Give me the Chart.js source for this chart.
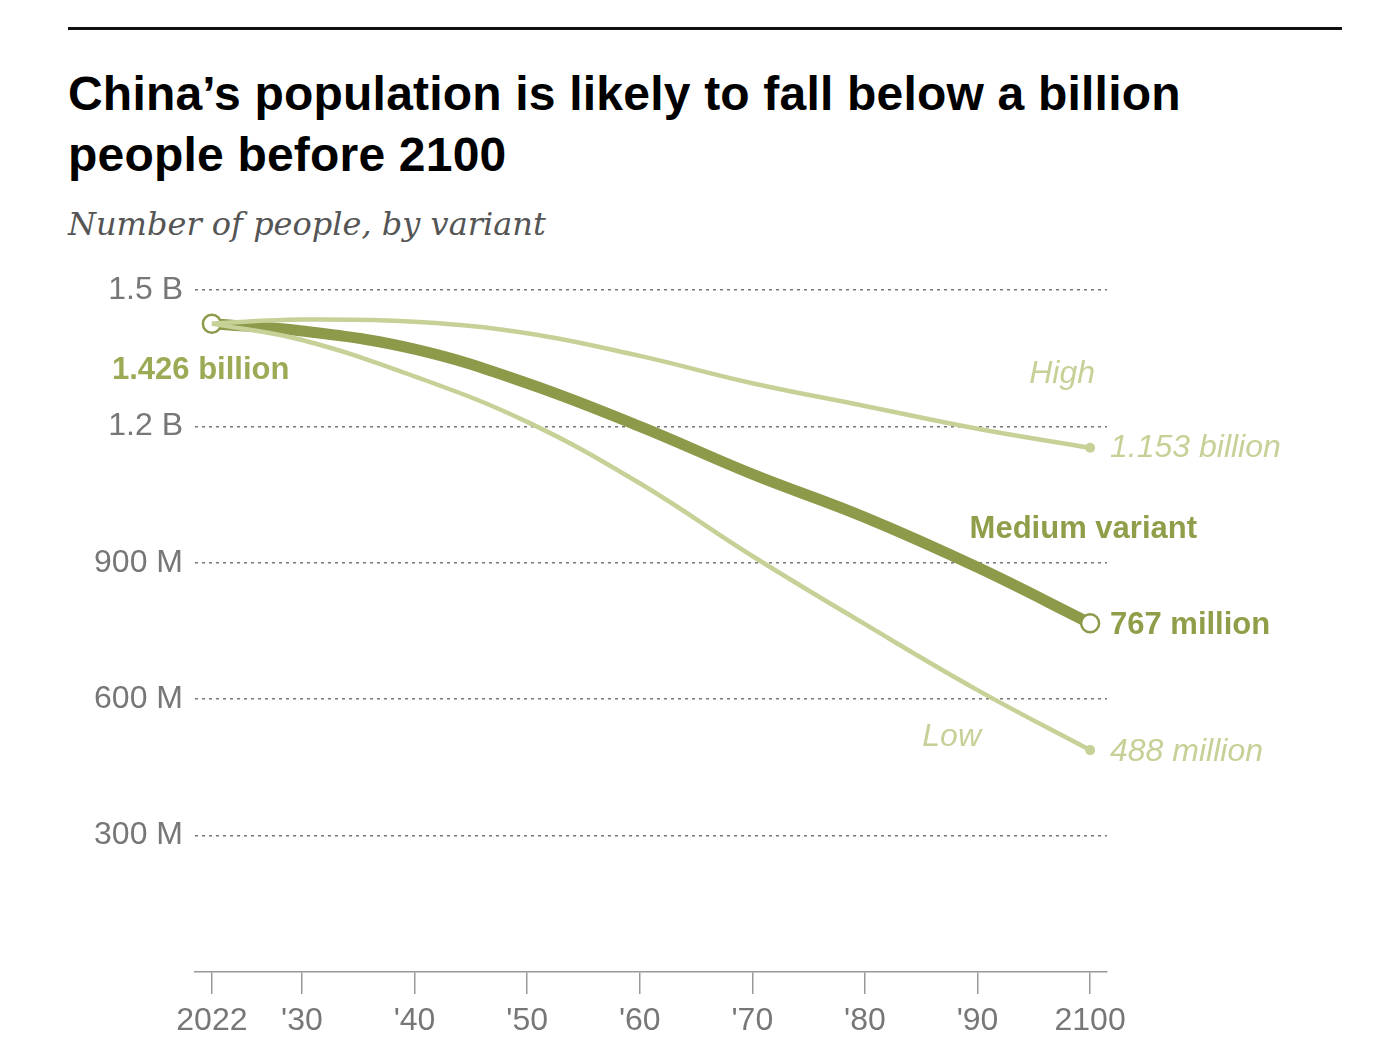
<!DOCTYPE html>
<html lang="en">
<head>
<meta charset="UTF-8">
<title>China population</title>
<script src="https://cdn.jsdelivr.net/npm/chart.js"></script>
<style>
  body { margin: 0; background: #fff; font-family: "Liberation Sans", Arial, sans-serif; }
  #wrap { position: relative; width: 1380px; height: 1048px; }
  #rule { position: absolute; left: 68px; top: 27px; width: 1274px; height: 3px; background: #111; }
  h1 { position: absolute; left: 68px; top: 63px; margin: 0; font-size: 48px; line-height: 61px; font-weight: bold; color: #000; letter-spacing: 0.2px; }
  #sub { position: absolute; left: 68px; top: 205px; font-family: "DejaVu Serif", Georgia, serif; font-style: italic; font-size: 32px; color: #555; }
  canvas { position: absolute; left: 0; top: 0; }
</style>
</head>
<body>
<div id="wrap">
  <div id="rule"></div>
  <h1>China’s population is likely to fall below a billion<br>people before 2100</h1>
  <div id="sub">Number of people, by variant</div>
  <canvas id="chart" width="1380" height="1048"></canvas>
</div>
<script>
const years = [2022, 2030, 2040, 2050, 2060, 2070, 2080, 2090, 2100];
const medium = [1.426, 1.41, 1.37, 1.295, 1.20, 1.095, 1.0, 0.89, 0.767];
const high = [1.426, 1.435, 1.43, 1.405, 1.355, 1.295, 1.245, 1.195, 1.153];
const low = [1.426, 1.39, 1.31, 1.21, 1.075, 0.915, 0.765, 0.62, 0.488];
const xTicks = [2022, 2030, 2040, 2050, 2060, 2070, 2080, 2090, 2100];
const xTickLabels = ['2022', "'30", "'40", "'50", "'60", "'70", "'80", "'90", '2100'];
const yTicks = [0.3, 0.6, 0.9, 1.2, 1.5];
const yTickLabels = ['300 M', '600 M', '900 M', '1.2 B', '1.5 B'];

const dark = '#8c9a4a', light = '#c5d196', labelDark = '#8f9e48';
const pts = arr => years.map((y, i) => ({ x: y, y: arr[i] }));
const last = years.length - 1;

const labels = {
  id: 'labels',
  afterDatasetsDraw(chart) {
    const c = chart.ctx, ys = chart.scales.y;
    const put = (t, x, y, font, col, align) => {
      c.font = font; c.fillStyle = col; c.textAlign = align || 'left'; c.textBaseline = 'middle';
      c.fillText(t, x, y);
    };
    const b = 'bold 31px "Liberation Sans", Arial, sans-serif';
    const it = 'italic 32px "Liberation Sans", Arial, sans-serif';
    put('1.426 billion', 112, 370, b, '#9aaa55');
    put('High', 1095, 374, it, light, 'right');
    put('1.153 billion', 1110, ys.getPixelForValue(high[last]), it, light);
    put('Medium variant', 1197, 529, b, labelDark, 'right');
    put('767 million', 1110, ys.getPixelForValue(medium[last]) + 2, b, labelDark);
    put('Low', 981, 737, it, light, 'right');
    put('488 million', 1110, ys.getPixelForValue(low[last]) + 2, it, light);
  }
};

new Chart(document.getElementById('chart'), {
  type: 'line',
  data: {
    datasets: [
      { data: pts(high), borderColor: light, borderWidth: 4.5, tension: 0.4,
        pointRadius: years.map((_, i) => i === last ? 5 : 0), pointBackgroundColor: light, pointBorderWidth: 0 },
      { data: pts(low), borderColor: light, borderWidth: 4.5, tension: 0.4,
        pointRadius: years.map((_, i) => i === last ? 5 : 0), pointBackgroundColor: light, pointBorderWidth: 0 },
      { data: pts(medium), borderColor: dark, borderWidth: 11, tension: 0.4,
        pointRadius: years.map((_, i) => (i === 0 || i === last) ? 9 : 0),
        pointBackgroundColor: '#fff', pointBorderColor: dark, pointBorderWidth: 2.5 }
    ]
  },
  options: {
    responsive: false,
    animation: false,
    clip: false,
    layout: { padding: { left: 70, right: 273, top: 290, bottom: 0 } },
    plugins: { legend: { display: false }, tooltip: { enabled: false } },
    scales: {
      x: {
        type: 'linear', min: 2020.5, max: 2101.5,
        afterBuildTicks: s => { s.ticks = xTicks.map(v => ({ value: v })); },
        afterFit: s => { s.height = 76; },
        ticks: { callback: (v) => xTickLabels[xTicks.indexOf(v)], color: '#777', padding: 8,
          font: { size: 32, family: '"Liberation Sans", Arial, sans-serif' }, maxRotation: 0, autoSkip: false },
        grid: { drawOnChartArea: false, tickLength: 22, color: '#999', lineWidth: 1.5 },
        border: { color: '#999', width: 1.5 }
      },
      y: {
        min: 0, max: 1.5,
        afterBuildTicks: s => { s.ticks = yTicks.map(v => ({ value: v })); },
        afterFit: s => { s.width = 125; },
        ticks: { callback: (v) => yTickLabels[yTicks.indexOf(v)], color: '#777', padding: 12,
          font: { size: 32, family: '"Liberation Sans", Arial, sans-serif' } },
        grid: { color: '#777', lineWidth: 1.5, drawTicks: false },
        border: { display: false, dash: [3, 4] }
      }
    }
  },
  plugins: [labels]
});
</script>
</body>
</html>
